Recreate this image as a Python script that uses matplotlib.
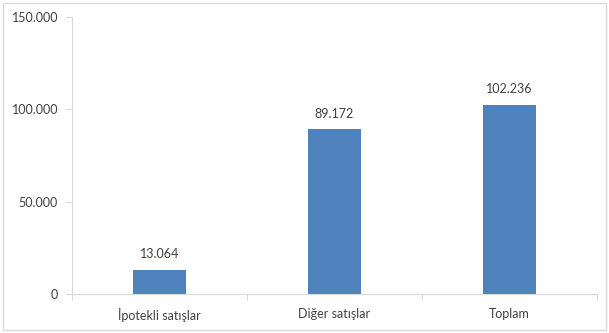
import matplotlib
matplotlib.use('Agg')
import matplotlib.pyplot as plt
from matplotlib.patches import Rectangle

categories = ['İpotekli satışlar', 'Diğer satışlar', 'Toplam']
values = [13064, 89172, 102236]
y_ticks = [0, 50000, 100000, 150000]

def tr_fmt(v):
    return f'{v:,.0f}'.replace(',', '.')

plt.rcParams['font.family'] = ['Lato', 'DejaVu Sans']
text_color = '#404040'
grid_color = '#D9D9D9'

fig = plt.figure(figsize=(6.09, 3.33), dpi=100)
ax = fig.add_axes([0.118, 0.117, 0.862, 0.832])

x = range(len(categories))
bars = ax.bar(x, values, width=0.3, color='#4F81BD', zorder=2)
for b, v in zip(bars, values):
    ax.annotate(tr_fmt(v), (b.get_x() + b.get_width() / 2, v),
                xytext=(0, 7), textcoords='offset points',
                ha='center', va='bottom', fontsize=9, color=text_color)

ax.set_xlim(-0.5, len(categories) - 0.5)
ax.set_ylim(0, 150000)
ax.set_yticks(y_ticks)
ax.set_yticklabels([tr_fmt(t) for t in y_ticks], fontsize=9, color=text_color)
ax.set_xticks(list(x))
ax.set_xticklabels(categories, fontsize=9, color=text_color)
ax.set_xticks([i - 0.5 for i in range(len(categories) + 1)], minor=True)
ax.tick_params(axis='x', which='major', length=0, pad=10)
ax.tick_params(axis='x', which='minor', length=4, color=grid_color, width=0.8)
ax.tick_params(axis='y', length=4, color=grid_color, width=0.8, pad=6)

for side in ['top', 'right']:
    ax.spines[side].set_visible(False)
for side in ['left', 'bottom']:
    ax.spines[side].set_color(grid_color)
    ax.spines[side].set_linewidth(0.8)

fig.patches.append(Rectangle((0.005, 0.01), 0.99, 0.98, transform=fig.transFigure,
                             fill=False, edgecolor='#D9D9D9', linewidth=1))

fig.savefig('out.png', dpi=100)
